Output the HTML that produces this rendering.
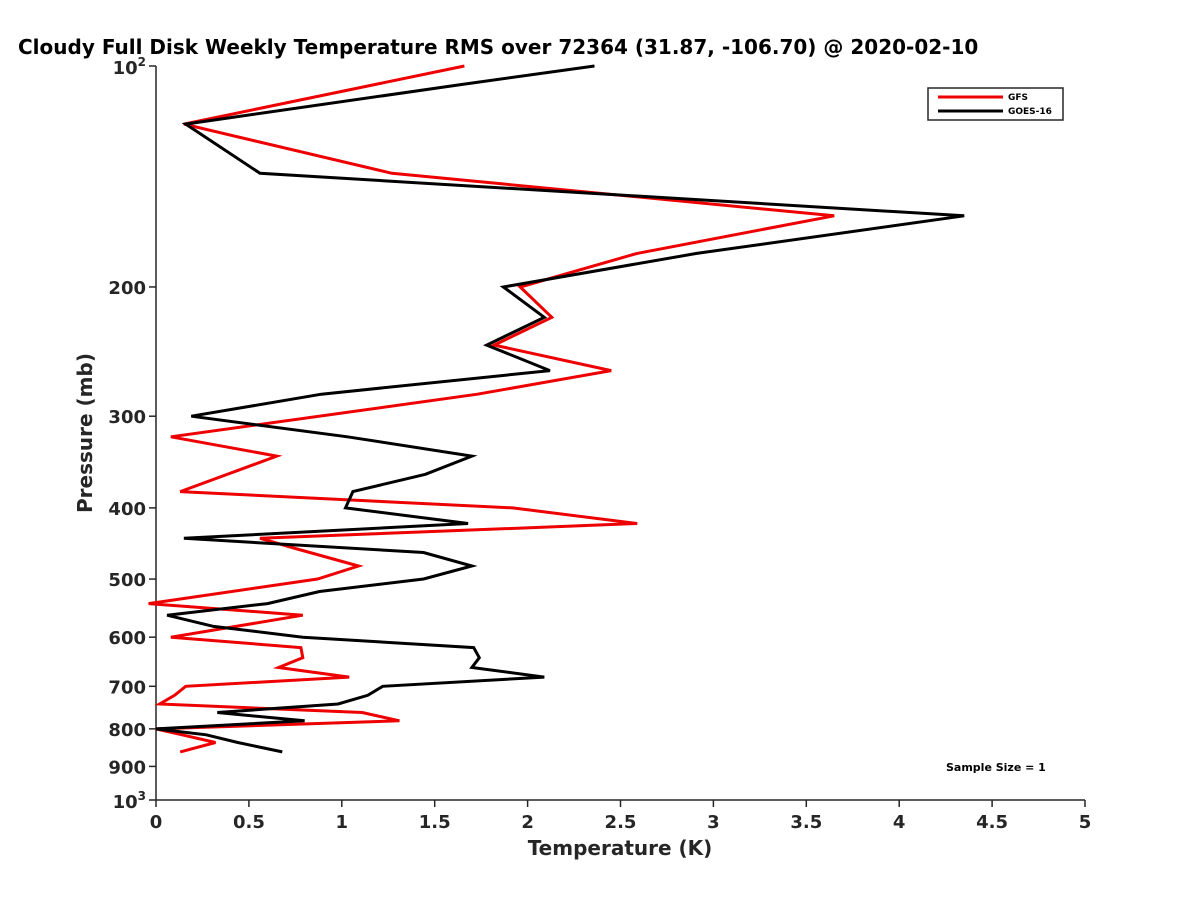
<!DOCTYPE html>
<html><head><meta charset="utf-8"><style>
html,body{margin:0;padding:0;background:#fff;width:1200px;height:900px;overflow:hidden}
svg{font-family:"DejaVu Sans","Liberation Sans",sans-serif;font-weight:bold;fill:#262626}
</style></head><body>
<svg id="chart" width="1200" height="900" viewBox="0 0 1200 900">
<text x="18" y="54" font-size="20" fill="#000">Cloudy Full Disk Weekly Temperature RMS over 72364 (31.87, -106.70) @ 2020-02-10</text>
<g id="axes"></g>
<g id="series"></g>
<g>
<rect x="928" y="88" width="135" height="32" fill="#fff" stroke="#262626" stroke-width="1.5"/>
<line x1="938" y1="97" x2="1003" y2="97" stroke="#e00" stroke-width="3"/>
<text x="1008" y="100" font-size="9" fill="#000">GFS</text>
<line x1="938" y1="111" x2="1003" y2="111" stroke="#000" stroke-width="3"/>
<text x="1008" y="114" font-size="9" fill="#000">GOES-16</text>
</g>
<text x="946" y="771" font-size="11" fill="#000">Sample Size = 1</text>
<text x="620" y="855" font-size="20" text-anchor="middle">Temperature (K)</text>
<text transform="translate(92,433) rotate(-90)" font-size="20" text-anchor="middle">Pressure (mb)</text>
</svg>
<script>
const xTicks = [0, 0.5, 1, 1.5, 2, 2.5, 3, 3.5, 4, 4.5, 5];
const xTickLabels = ["0", "0.5", "1", "1.5", "2", "2.5", "3", "3.5", "4", "4.5", "5"];
const yTicks = [200, 300, 400, 500, 600, 700, 800, 900];
const gfsPressure = [100,120,140,160,180,200,220,240,260,280,320,340,380,400,420,440,455,480,500,540,560,600,620,640,660,680,700,720,740,760,780,800,815,835,860];
const gfsValues   = [1.66,0.15,1.27,3.65,2.59,1.96,2.13,1.82,2.45,1.73,0.08,0.65,0.13,1.92,2.59,0.56,0.76,1.09,0.87,-0.04,0.79,0.08,0.78,0.79,0.66,1.04,0.16,0.10,0.02,1.11,1.31,0.0,0.14,0.32,0.13];
const goesPressure = [100,106,120,140,160,180,200,220,240,260,280,300,320,340,360,380,400,420,440,460,480,500,520,540,560,580,600,620,640,660,680,700,720,740,760,780,800,815,835,860];
const goesValues   = [2.36,1.64,0.16,0.56,4.35,2.91,1.87,2.09,1.78,2.12,0.89,0.19,1.03,1.70,1.45,1.06,1.02,1.68,0.15,1.44,1.70,1.44,0.88,0.60,0.06,0.31,0.79,1.71,1.74,1.70,2.09,1.22,1.14,0.98,0.33,0.80,0.0,0.27,0.44,0.68];

const X0=156, X1=1085, Y0=66, Y1=800;
const xScale = v => X0 + (v/5)*(X1-X0);
const yScale = p => Y0 + (Math.log10(p)-2)*(Y1-Y0);
const NS="http://www.w3.org/2000/svg";
function mk(tag, attrs, parent){const e=document.createElementNS(NS,tag);for(const k in attrs)e.setAttribute(k,attrs[k]);parent.appendChild(e);return e;}
const axes=document.getElementById('axes');
const xa=mk('line',{x1:X0,y1:Y1,x2:X1,y2:Y1,stroke:'#262626','stroke-width':1.5},axes);


const ya=mk('line',{x1:X0,y1:Y0,x2:X0,y2:Y1,stroke:'#262626','stroke-width':1.5},axes);


xTicks.forEach((v,i)=>{
  const x=xScale(v);
  const t=mk('line',{x1:x,y1:Y1,x2:x,y2:Y1+7,stroke:'#262626','stroke-width':1.5},axes);
  
  
  const l=mk('text',{x:x,y:Y1+28,'font-size':18,'text-anchor':'middle'},axes);
  
  
  l.textContent=xTickLabels[i];
});
[100,1000].concat(yTicks).forEach(p=>{
  const y=yScale(p);
  const t=mk('line',{x1:X0-7,y1:y,x2:X0,y2:y,stroke:'#262626','stroke-width':1.5},axes);
  
  
});
yTicks.forEach(p=>{
  const l=mk('text',{x:X0-10,y:yScale(p)+7,'font-size':18,'text-anchor':'end'},axes);
  
  
  l.textContent=String(p);
});
[[100,'2'],[1000,'3']].forEach(([p,e])=>{
  const l=mk('text',{x:X0-10,y:yScale(p)+8,'font-size':18,'text-anchor':'end'},axes);
  
  
  l.textContent='10';
  const s=mk('tspan',{dy:-8,'font-size':12},l);
  s.textContent=e;
});
const ser=document.getElementById('series');
function drawLine(ps,vs,color,name){
  const pts=ps.map((p,i)=>xScale(vs[i]).toFixed(1)+','+yScale(p).toFixed(1)).join(' ');
  const pl=mk('polyline',{points:pts,fill:'none',stroke:color,'stroke-width':3,'stroke-linejoin':'miter'},ser);
  
  
}
drawLine(gfsPressure,gfsValues,'#e00','gfs-line');
drawLine(goesPressure,goesValues,'#000','goes16-line');
</script>
</body></html>
